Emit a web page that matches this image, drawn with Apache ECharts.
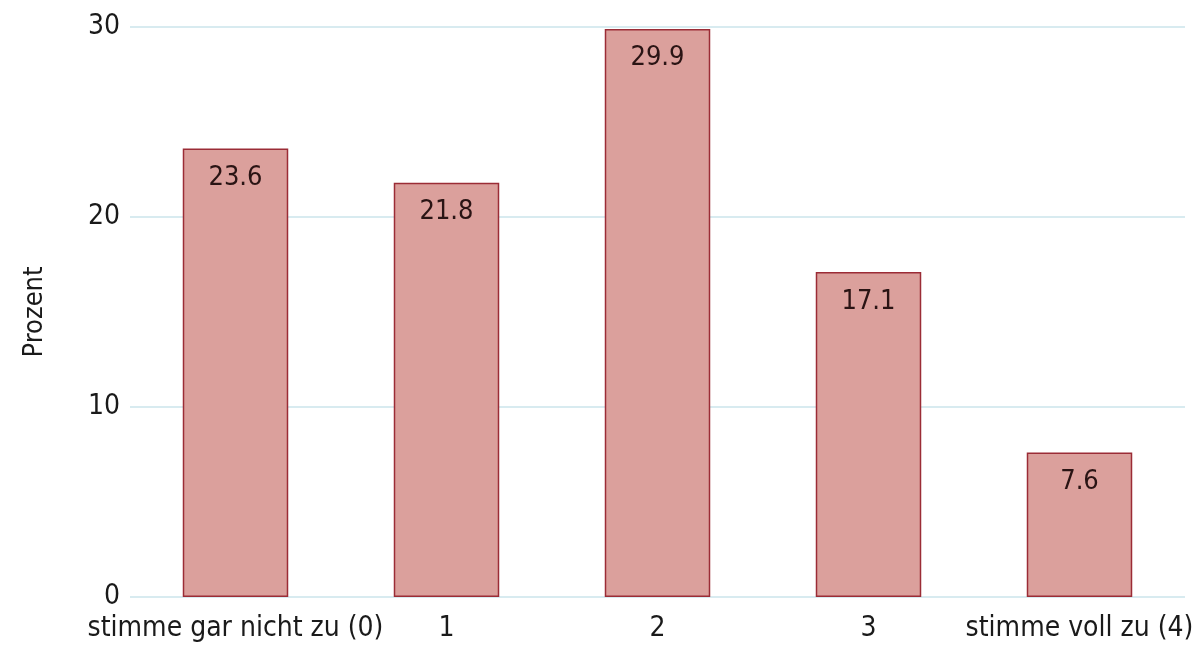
<!DOCTYPE html>
<html><head><meta charset="utf-8">
<script src="https://cdn.jsdelivr.net/npm/echarts@6/dist/echarts.min.js"></script>
<style>html,body{margin:0;padding:0;background:#fff}#c{width:1198px;height:646px}</style>
</head><body><div id="c"></div>
<script>
const categories = ["stimme gar nicht zu (0)", "1", "2", "3", "stimme voll zu (4)"];
const values = [23.6, 21.8, 29.9, 17.1, 7.6];
const yTicks = [0, 10, 20, 30];
const yTitle = "Prozent";
const FONT = "'Liberation Sans Narrow', 'DejaVu Sans Condensed', 'Roboto', sans-serif";
const chart = echarts.init(document.getElementById('c'));
chart.setOption({
  animation: false,
  backgroundColor: '#ffffff',
  grid: {left: 130, right: 13, top: 27, bottom: 49},
  xAxis: {
    type: 'category', data: categories,
    axisLine: {show: false}, axisTick: {show: false},
    axisLabel: {color: '#1a1a1a', fontSize: 28, fontFamily: FONT, margin: 18, interval: 0}
  },
  yAxis: {
    type: 'value', min: yTicks[0], max: yTicks[yTicks.length-1], interval: 10,
    name: yTitle, nameLocation: 'middle', nameGap: 82, nameRotate: 90,
    nameTextStyle: {color: '#1a1a1a', fontSize: 27, fontFamily: FONT},
    axisLine: {show: false}, axisTick: {show: false},
    axisLabel: {color: '#1a1a1a', fontSize: 28, fontFamily: FONT, margin: 10},
    splitLine: {lineStyle: {color: '#d8ebf0', width: 2}}
  },
  series: [{
    type: 'bar', data: values, barWidth: '50%',
    itemStyle: {color: '#dba09c', borderColor: '#9b2c36', borderWidth: 1.5},
    label: {show: true, position: 'insideTop', distance: 16, color: '#2a1414', fontSize: 27, fontFamily: FONT,
      formatter: p => p.value.toFixed(1)}
  }]
});
</script></body></html>
